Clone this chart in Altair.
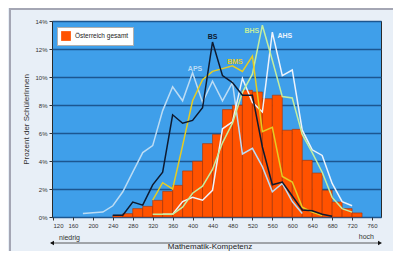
import altair as alt
import pandas as pd

# ---------------- data ----------------
bin_start = [240, 260, 280, 300, 320, 340, 360, 380, 400, 420, 440, 460, 480,
             500, 520, 540, 560, 580, 600, 620, 640, 660, 680, 700, 720]
oesterreich_gesamt = [0.12, 0.24, 0.6, 0.76, 1.19, 1.83, 2.26, 3.29, 3.98, 5.24,
                      5.9, 7.67, 7.98, 9.05, 8.93, 8.45, 8.7, 6.2, 6.26, 4.05,
                      3.14, 1.9, 1.07, 0.6, 0.29]
bin_width = 20

aps_x = [180, 200, 220, 240, 260, 280, 300, 320, 340, 360, 380, 400, 420, 440,
         460, 480, 500, 520, 540, 560, 580, 600, 620]
aps_y = [0.25, 0.3, 0.35, 0.8, 1.8, 3.2, 4.6, 5.1, 7.6, 9.3, 8.3, 10.3, 8.2, 9.7,
         8.3, 9.6, 4.5, 4.9, 3.6, 1.8, 2.4, 1.1, 0.25]

bs_x = [240, 260, 280, 300, 320, 340, 360, 380, 400, 420, 440, 460, 480, 500,
        520, 540, 560, 580, 600, 620, 640, 660, 680]
bs_y = [0.12, 0.12, 1.07, 0.85, 2.3, 3.2, 7.3, 6.7, 6.9, 7.8, 12.5, 10.1, 9.6,
        8.7, 8.7, 5.0, 2.3, 2.5, 1.5, 0.5, 0.45, 0.2, 0.05]

bms_x = [320, 340, 360, 380, 400, 420, 440, 460, 480, 500, 520, 540, 560, 580,
         600, 620, 640, 660]
bms_y = [1.2, 2.45, 2.0, 5.1, 8.3, 9.8, 10.4, 10.6, 10.8, 10.4, 11.5, 6.1, 6.4,
         2.9, 2.5, 0.7, 0.35, 0.1]

bhs_x = [320, 340, 360, 380, 400, 420, 440, 460, 480, 500, 520, 540, 560, 580,
         600, 620, 640, 660, 680, 700, 720]
bhs_y = [0.2, 0.2, 0.2, 0.7, 1.7, 2.2, 3.4, 5.3, 6.7, 8.9, 10.2, 13.7, 11.2, 8.6,
         8.5, 5.9, 4.6, 3.2, 1.4, 0.6, 0.35]

ahs_x = [340, 360, 380, 400, 420, 440, 460, 480, 500, 520, 540, 560, 580, 600,
         620, 640, 660, 680, 700, 720]
ahs_y = [0.2, 0.2, 1.1, 1.4, 1.2, 1.9, 6.3, 6.8, 9.9, 8.2, 7.5, 13.2, 10.1, 10.5,
         6.2, 4.8, 4.4, 2.4, 1.1, 0.8]

schools = ["APS", "AHS", "BHS", "BMS", "BS"]
school_colors = ["#bcdcf4", "#eef3fb", "#c4eea0", "#e6cc22", "#0e1a30"]
school_widths = [1.5, 1.5, 1.5, 1.5, 2.0]

label_x = [405, 585, 519, 485, 440]
label_y = [10.6, 12.9, 13.3, 11.05, 12.85]

x_ticks = [120, 160, 200, 240, 280, 320, 360, 400, 440, 480, 520, 560, 600,
           640, 680, 720, 760]
y_ticks = [0, 2, 4, 6, 8, 10, 12, 14]

# ---------------- tables ----------------
bars = pd.DataFrame({
    "start": bin_start,
    "end": [s + bin_width for s in bin_start],
    "pct": oesterreich_gesamt,
    "base": [0] * len(bin_start),
    "series": ["Österreich gesamt"] * len(bin_start),
})

series_xy = {"APS": (aps_x, aps_y), "AHS": (ahs_x, ahs_y), "BHS": (bhs_x, bhs_y),
             "BMS": (bms_x, bms_y), "BS": (bs_x, bs_y)}
rows = []
for order, name in enumerate(schools):
    xs, ys = series_xy[name]
    for xv, yv in zip(xs, ys):
        rows.append({"school": name, "x": xv, "y": yv, "o": order})
lines = pd.DataFrame(rows)

labels = pd.DataFrame({"school": schools, "x": label_x, "y": label_y})

FONT = "Liberation Sans"
xscale = alt.Scale(domain=[118, 778], nice=False, zero=False)
yscale = alt.Scale(domain=[0, 14], nice=False)

x_axis = alt.Axis(values=x_ticks, grid=False, domain=False, tickSize=3,
                  tickColor="#333", labelFontSize=6, labelColor="#333",
                  labelPadding=2, labelOverlap=False, title=None)
y_axis = alt.Axis(values=y_ticks, labelExpr="datum.value + '%'", grid=True,
                  gridColor="#1c5690", gridWidth=1.3, domain=False, tickSize=3,
                  tickColor="#333", labelFontSize=6, labelColor="#333",
                  labelPadding=2, labelOverlap=False,
                  title="Prozent der SchülerInnen",
                  titleFontSize=8, titleFontWeight="normal", titleColor="#333",
                  titlePadding=4)

bar_layer = alt.Chart(bars).mark_bar(stroke="#a83000", strokeWidth=0.6).encode(
    x=alt.X("start:Q", scale=xscale, axis=x_axis),
    x2="end:Q",
    y=alt.Y("pct:Q", scale=yscale, axis=y_axis),
    y2="base:Q",
    color=alt.Color("series:N",
                    scale=alt.Scale(domain=["Österreich gesamt"], range=["#ff5200"]),
                    legend=alt.Legend(title=None, orient="none", legendX=5, legendY=6,
                                      fillColor="white", strokeColor="#b0b0b0",
                                      padding=4, symbolType="square", symbolSize=95,
                                      symbolStrokeWidth=0, labelFontSize=6.5,
                                      labelColor="#222", labelFont=FONT)),
)

line_layer = alt.Chart(lines).mark_line(clip=True).encode(
    x=alt.X("x:Q", scale=xscale, axis=x_axis),
    y=alt.Y("y:Q", scale=yscale, axis=y_axis),
    stroke=alt.Stroke("school:N", scale=alt.Scale(domain=schools, range=school_colors),
                      legend=None),
    strokeWidth=alt.StrokeWidth("school:N",
                                scale=alt.Scale(domain=schools, range=school_widths),
                                legend=None),
    order="o:Q",
)

label_layer = alt.Chart(labels).mark_text(fontSize=7, fontWeight="bold", font=FONT).encode(
    x=alt.X("x:Q", scale=xscale, axis=x_axis),
    y=alt.Y("y:Q", scale=yscale, axis=y_axis),
    text="school:N",
    fill=alt.Fill("school:N", scale=alt.Scale(domain=schools, range=school_colors),
                  legend=None),
)

deco = pd.DataFrame({"k": [0]})
arrow_line = alt.Chart(deco).mark_rule(color="#333", strokeWidth=0.8).encode(
    x=alt.value(-1), x2=alt.value(328), y=alt.value(222))
arrow_left = alt.Chart(deco).mark_point(shape="triangle-left", filled=True,
                                        color="#111", size=22, opacity=1).encode(
    x=alt.value(0), y=alt.value(222))
arrow_right = alt.Chart(deco).mark_point(shape="triangle-right", filled=True,
                                         color="#111", size=22, opacity=1).encode(
    x=alt.value(328), y=alt.value(222))
niedrig = alt.Chart(deco).mark_text(text="niedrig", fontSize=7, align="left",
                                    color="#333", font=FONT).encode(
    x=alt.value(7), y=alt.value(217))
hoch = alt.Chart(deco).mark_text(text="hoch", fontSize=7, align="right",
                                 color="#333", font=FONT).encode(
    x=alt.value(322), y=alt.value(216))
x_title = alt.Chart(deco).mark_text(text="Mathematik-Kompetenz", fontSize=8,
                                    align="center", baseline="alphabetic",
                                    color="#222", font=FONT).encode(
    x=alt.value(158), y=alt.value(227.5))
frame_left = alt.Chart(deco).mark_rule(color="#a4a6b4", strokeWidth=2).encode(
    x=alt.value(-42), y=alt.value(-13), y2=alt.value(230))
frame_top = alt.Chart(deco).mark_rule(color="#a4a6b4", strokeWidth=2).encode(
    x=alt.value(-42), x2=alt.value(341), y=alt.value(-12))

chart = alt.layer(
    bar_layer, line_layer, label_layer, arrow_line, arrow_left, arrow_right,
    niedrig, hoch, x_title, frame_left, frame_top
).resolve_scale(
    color="independent", fill="independent", stroke="independent"
).properties(
    width=329, height=196,
    autosize=alt.AutoSizeParams(type="none"),
    padding={"left": 44, "top": 13, "right": 12, "bottom": 34},
    background="#e8eff7",
).configure(
    font=FONT,
    view=alt.ViewConfig(fill="#3f9fea", stroke="#2a2a2a", strokeWidth=1),
)

chart.save("out.html", embed_options={"renderer": "svg", "actions": False})
